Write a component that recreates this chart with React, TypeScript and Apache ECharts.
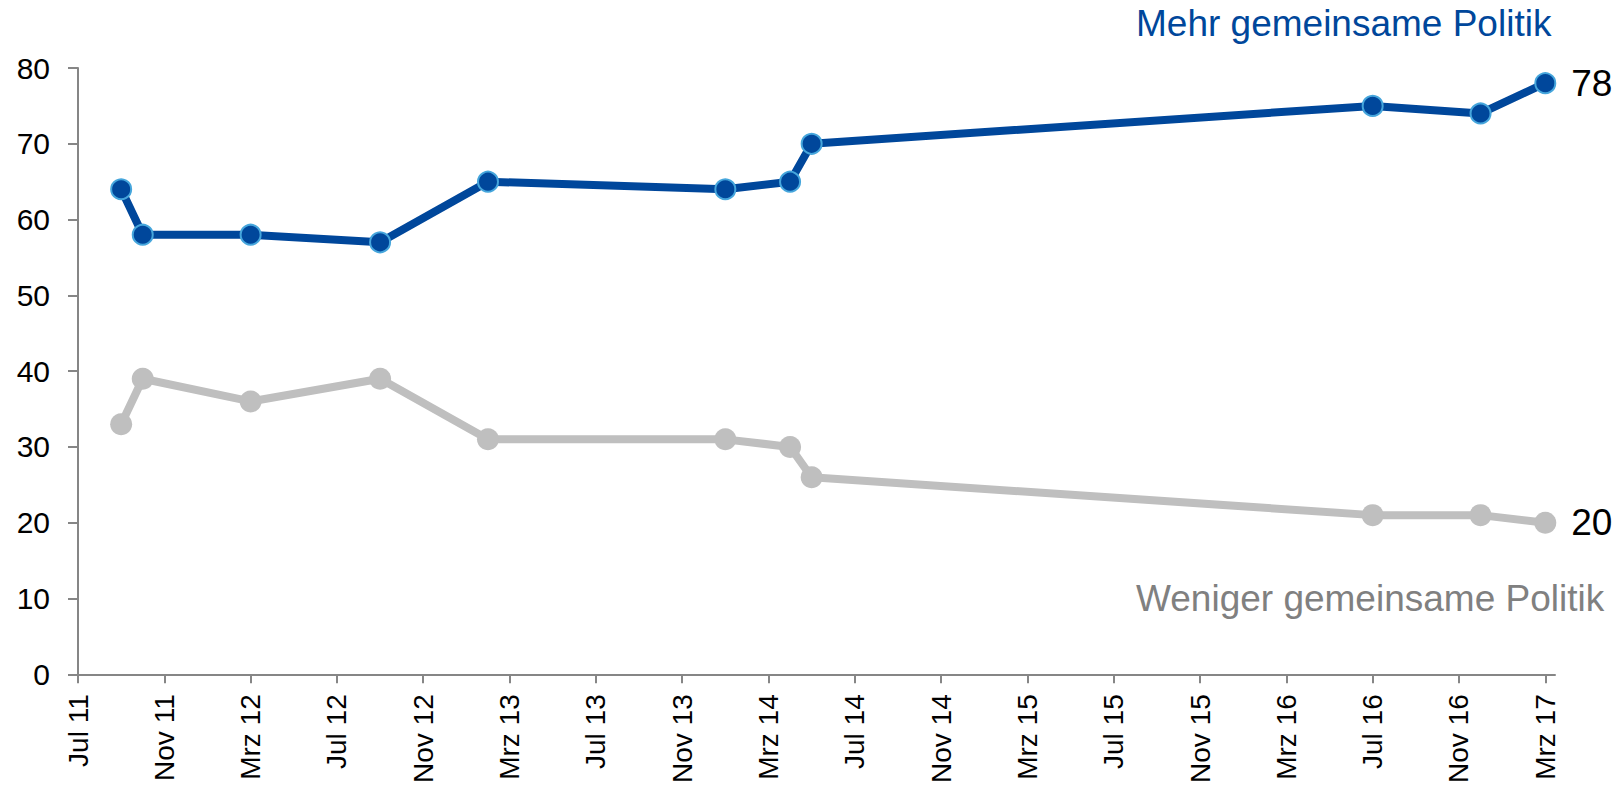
import React, { useEffect, useRef } from "react";
import * as echarts from "echarts";

// Survey dates (year-month)
const surveyDates = [
  "2011-09", "2011-10", "2012-03", "2012-09", "2013-02",
  "2014-01", "2014-04", "2014-05", "2016-07", "2016-12", "2017-03",
];
// "Mehr gemeinsame Politik" (%)
const moreValues = [64, 58, 58, 57, 65, 64, 65, 70, 75, 74, 78];
// "Weniger gemeinsame Politik" (%)
const lessValues = [33, 39, 36, 39, 31, 31, 30, 26, 21, 21, 20];

const seriesNames = ["Mehr gemeinsame Politik", "Weniger gemeinsame Politik"];
const monthNames = ["Jan", "Feb", "Mrz", "Apr", "Mai", "Jun", "Jul", "Aug", "Sep", "Okt", "Nov", "Dez"];
// x-axis tick labels every 4 months from Jul 11 to Mrz 17
const tickLabels = [
  "Jul 11", "Nov 11", "Mrz 12", "Jul 12", "Nov 12", "Mrz 13", "Jul 13", "Nov 13", "Mrz 14",
  "Jul 14", "Nov 14", "Mrz 15", "Jul 15", "Nov 15", "Mrz 16", "Jul 16", "Nov 16", "Mrz 17",
];
const yTicks = [0, 10, 20, 30, 40, 50, 60, 70, 80];

const START_YEAR = 2011;
const START_MONTH = 7;
const monthIndex = (d: string) => {
  const [y, m] = d.split("-").map(Number);
  return (y - START_YEAR) * 12 + (m - START_MONTH);
};
const tickValues = tickLabels.map((_, i) => i * 4);

const FONT = "'Liberation Sans', Arial, Helvetica, sans-serif";
const BLUE = "#00479B";
const BLUE_BORDER = "#46A6DC";
const GRAY = "#BFBFBF";
const AXIS = "#868686";

export default function App() {
  const ref = useRef<HTMLDivElement>(null);
  useEffect(() => {
    if (!ref.current) return;
    const chart = echarts.init(ref.current, null, { renderer: "svg" });
    const xs = surveyDates.map(monthIndex);
    const mk = (vals: number[]) =>
      vals.map((v, i) =>
        i === vals.length - 1
          ? {
              value: [xs[i], v],
              label: {
                show: true,
                position: "right",
                distance: 15,
                formatter: String(v),
                fontSize: 37,
                color: "#000",
                fontFamily: FONT,
              },
            }
          : { value: [xs[i], v] }
      );
    chart.setOption({
      animation: false,
      backgroundColor: "#fff",
      textStyle: { fontFamily: FONT },
      grid: { left: 78, right: 63, top: 68, bottom: 111, containLabel: false },
      xAxis: {
        type: "value",
        min: 0,
        max: 68.45,
        splitLine: { show: false },
        axisLine: { show: true, lineStyle: { color: AXIS, width: 2 } },
        axisTick: {
          show: true,
          length: 9,
          customValues: tickValues,
          lineStyle: { color: AXIS, width: 2 },
        },
        axisLabel: {
          customValues: tickValues,
          rotate: 90,
          margin: 20,
          fontSize: 28,
          color: "#000",
          fontFamily: FONT,
          formatter: (v: number) => {
            const idx = Math.round(v);
            const m = (START_MONTH - 1 + idx) % 12;
            const y = START_YEAR + Math.floor((START_MONTH - 1 + idx) / 12);
            return monthNames[m] + " " + String(y % 100).padStart(2, "0");
          },
        },
      },
      yAxis: {
        type: "value",
        min: yTicks[0],
        max: yTicks[yTicks.length - 1],
        interval: 10,
        splitLine: { show: false },
        axisLine: { show: true, lineStyle: { color: AXIS, width: 2 } },
        axisTick: { show: true, length: 10, lineStyle: { color: AXIS, width: 2 } },
        axisLabel: { margin: 28, fontSize: 30, color: "#000", fontFamily: FONT },
      },
      graphic: [
        {
          type: "text",
          left: 1136,
          top: 5,
          style: { text: seriesNames[0], fill: BLUE, fontSize: 37, fontFamily: FONT },
        },
        {
          type: "text",
          left: 1136,
          top: 580,
          style: { text: seriesNames[1], fill: "#808080", fontSize: 37, fontFamily: FONT },
        },
      ],
      series: [
        {
          name: seriesNames[1],
          type: "line",
          data: mk(lessValues),
          symbol: "circle",
          symbolSize: 22,
          lineStyle: { color: GRAY, width: 8 },
          itemStyle: { color: GRAY },
          z: 2,
        },
        {
          name: seriesNames[0],
          type: "line",
          data: mk(moreValues),
          symbol: "circle",
          symbolSize: 20,
          lineStyle: { color: BLUE, width: 8 },
          itemStyle: { color: BLUE, borderColor: BLUE_BORDER, borderWidth: 2 },
          z: 3,
        },
      ],
    });
    return () => chart.dispose();
  }, []);
  return (
    <div
      ref={ref}
      style={{ position: "fixed", left: 0, top: 0, width: 1618, height: 786, background: "#fff" }}
    />
  );
}
